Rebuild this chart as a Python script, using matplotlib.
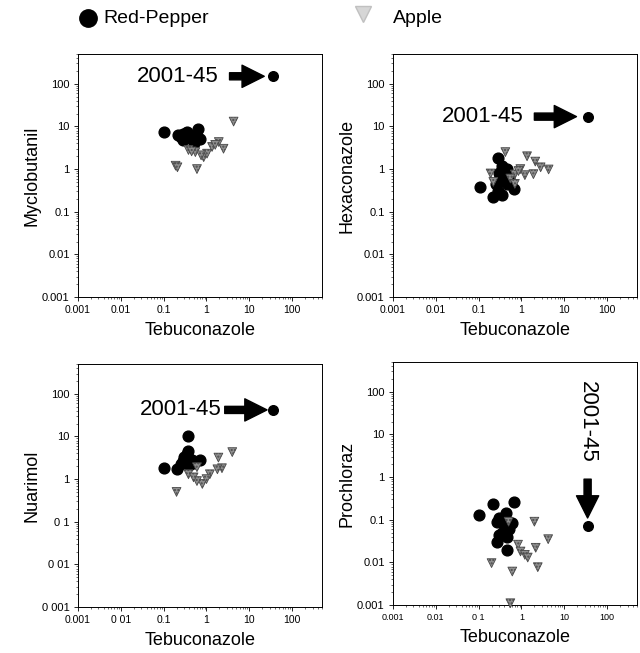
import numpy as np
import matplotlib.pyplot as plt
from matplotlib.lines import Line2D

plt.rcParams['font.family'] = ['Liberation Sans', 'DejaVu Sans']

# Tebuconazole (x) vs. second fungicide (y), per panel
# --- Myclobutanil
myc_pep_x = [0.10, 0.65, 0.22, 0.35, 0.72, 0.50, 0.29, 0.40, 0.30, 0.45, 0.25, 0.55, 0.38, 0.33, 0.60, 0.28]
myc_pep_y = [7.5, 8.5, 6.2, 7.4, 5.2, 4.0, 4.8, 6.0, 5.5, 5.0, 5.8, 4.5, 6.8, 7.0, 6.0, 6.5]
myc_app_x = [4.3, 0.19, 0.21, 0.6, 0.38, 0.55, 0.86, 1.03, 1.35, 1.94, 2.5, 1.6, 0.75, 0.45]
myc_app_y = [13, 1.2, 1.1, 1.0, 2.8, 2.5, 1.9, 2.3, 3.3, 4.3, 3.0, 3.7, 2.1, 2.6]
# --- Hexaconazole
hex_pep_x = [0.11, 0.28, 0.22, 0.66, 0.32, 0.36, 0.28, 0.45, 0.25, 0.45, 0.38, 0.30, 0.50, 0.35]
hex_pep_y = [0.38, 1.8, 0.22, 0.35, 0.66, 1.2, 0.30, 0.45, 0.45, 1.0, 0.55, 0.80, 0.60, 0.25]
hex_app_x = [0.42, 1.35, 2.1, 2.8, 4.3, 1.9, 1.2, 0.94, 0.19, 0.7, 0.55, 0.7, 0.22, 0.85]
hex_app_y = [2.5, 2.0, 1.5, 1.1, 0.98, 0.76, 0.72, 1.0, 0.79, 0.75, 0.6, 0.45, 0.5, 0.9]
# --- Nuarimol
nua_pep_x = [0.38, 0.10, 0.20, 0.38, 0.72, 0.30, 0.25, 0.40, 0.45, 0.35, 0.28, 0.50]
nua_pep_y = [10, 1.8, 1.7, 4.6, 2.8, 3.3, 2.3, 2.1, 2.8, 3.8, 2.6, 2.4]
nua_app_x = [0.20, 4.0, 1.9, 2.3, 1.8, 1.2, 0.8, 0.6, 0.38, 0.5, 1.0, 0.6]
nua_app_y = [0.5, 4.3, 3.2, 1.8, 1.7, 1.3, 0.77, 0.9, 1.3, 1.1, 1.0, 1.9]
# --- Prochloraz
pro_pep_x = [0.10, 0.22, 0.67, 0.43, 0.27, 0.61, 0.50, 0.27, 0.47, 0.30, 0.40, 0.30, 0.35, 0.45]
pro_pep_y = [0.13, 0.24, 0.26, 0.145, 0.09, 0.085, 0.06, 0.03, 0.02, 0.045, 0.075, 0.11, 0.05, 0.04]
pro_app_x = [2.0, 4.2, 2.15, 2.4, 0.61, 0.20, 0.83, 0.95, 1.2, 1.4, 0.55, 0.50]
pro_app_y = [0.09, 0.035, 0.022, 0.0077, 0.0061, 0.0096, 0.026, 0.018, 0.015, 0.013, 0.0011, 0.09]

# the outlying red-pepper sample 2001-45
out_x = [35, 35, 35, 35]
out_y = [150, 17, 42, 0.07]

ticks = [0.001, 0.01, 0.1, 1, 10, 100]
tick_labels = ['0.001', '0.01', '0.1', '1', '10', '100']

panels = [
    ('Myclobutanil', myc_pep_x, myc_pep_y, myc_app_x, myc_app_y),
    ('Hexaconazole', hex_pep_x, hex_pep_y, hex_app_x, hex_app_y),
    ('Nuarimol', nua_pep_x, nua_pep_y, nua_app_x, nua_app_y),
    ('Prochloraz', pro_pep_x, pro_pep_y, pro_app_x, pro_app_y),
]
boxes = [
    [0.1219, 0.5452, 0.3813, 0.3721],
    [0.6141, 0.5452, 0.3813, 0.3721],
    [0.1219, 0.0704, 0.3813, 0.3721],
    [0.6141, 0.0735, 0.3813, 0.3721],
]
ylabels_x = [tick_labels, tick_labels, ['0.001', '0 01', '0.1', '1', '10', '100'],
             ['0.001', '0.01', '0 1', '1', '10', '100']]
ylabels_y = [tick_labels, tick_labels, ['0 001', '0 01', '0 1', '1', '10', '100'], tick_labels]

fig = plt.figure(figsize=(6.4, 6.53), dpi=100)

arrow = 'simple,head_width=1.0,head_length=1.0,tail_width=0.32'
for i, (name, px, py, ax_, ay_) in enumerate(panels):
    ax = fig.add_axes(boxes[i])
    ax.set_xscale('log')
    ax.set_yscale('log')
    ax.set_xlim(0.001, 500)
    ax.set_ylim(0.001, 500)
    ax.scatter(ax_, ay_, marker='v', s=40, facecolor='#8e8e8e', edgecolor='#4a4a4a',
               linewidths=0.6, hatch='.....', zorder=3, clip_on=False)
    ax.scatter(px, py, marker='o', s=60, color='black', zorder=2)
    ax.scatter([out_x[i]], [out_y[i]], marker='o', s=48, color='black', zorder=2)

    ax.set_xticks(ticks)
    ax.set_xticklabels(ylabels_x[i], fontsize=6.5 if i == 3 else 7.5)
    ax.set_yticks(ticks)
    ax.set_yticklabels(ylabels_y[i], fontsize=8)
    ax.tick_params(which='major', direction='out', length=3, width=0.6, pad=3)
    ax.tick_params(which='minor', direction='out', length=1.5, width=0.4)
    for sp in ax.spines.values():
        sp.set_linewidth(0.7)
    ax.set_xlabel('Tebuconazole', fontsize=13, labelpad=5)
    ax.set_ylabel(name, fontsize=13, labelpad=1)

    if i == 0:
        ax.annotate('2001-45', xy=(out_x[i], out_y[i]), xytext=(1.9, out_y[i]),
                    ha='right', va='center', fontsize=16,
                    arrowprops=dict(arrowstyle=arrow, fc='black', ec='black',
                                    shrinkA=6, shrinkB=6))
    elif i == 1:
        ax.annotate('2001-45', xy=(out_x[i], out_y[i]), xytext=(1.1, out_y[i]),
                    ha='right', va='center', fontsize=16,
                    arrowprops=dict(arrowstyle=arrow, fc='black', ec='black',
                                    shrinkA=6, shrinkB=8))
    elif i == 2:
        ax.annotate('2001-45', xy=(out_x[i], out_y[i]), xytext=(2.3, out_y[i]),
                    ha='right', va='center', fontsize=16,
                    arrowprops=dict(arrowstyle=arrow, fc='black', ec='black',
                                    shrinkA=0, shrinkB=4))
    else:
        ax.annotate('2001-45', xy=(out_x[i], out_y[i]), xytext=(out_x[i], 2.2),
                    ha='center', va='bottom', rotation=-90, fontsize=16,
                    arrowprops=dict(arrowstyle=arrow, fc='black', ec='black',
                                    shrinkA=10, shrinkB=6))

# legend across the top
fig.add_artist(Line2D([0.1375], [0.9724], marker='o', markersize=12.5, color='black',
                      linestyle='none', transform=fig.transFigure))
fig.text(0.161, 0.9724, 'Red-Pepper', fontsize=14, va='center', ha='left')
fig.add_artist(Line2D([0.567], [0.9786], marker='v', markersize=12, markerfacecolor='#d6d6d6',
                      markeredgecolor='#c0c0c0', linestyle='none', transform=fig.transFigure))
fig.text(0.614, 0.9724, 'Apple', fontsize=14, va='center', ha='left')

fig.savefig('out.png', dpi=100)
